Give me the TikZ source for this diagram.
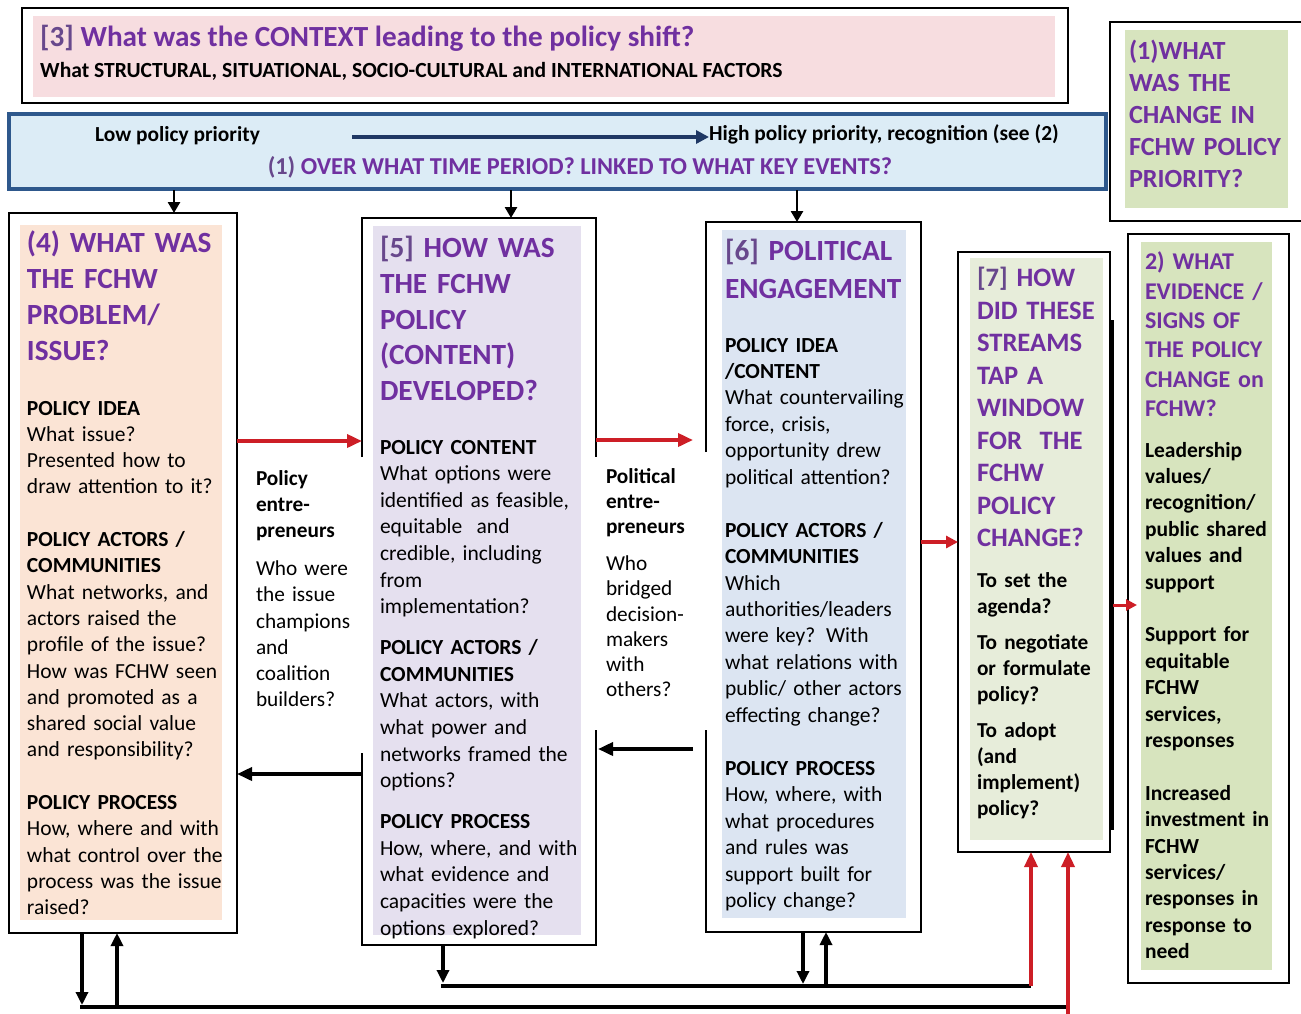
\documentclass[tikz,border=0pt]{standalone}
\usepackage{fontspec}
\setmainfont{Carlito}
\usetikzlibrary{fit,arrows.meta}

\definecolor{ttl}{RGB}{112,48,160}
\definecolor{brk}{RGB}{104,72,140}
\definecolor{pinkfill}{RGB}{247,221,224}
\definecolor{peach}{RGB}{251,228,213}
\definecolor{lav}{RGB}{229,224,239}
\definecolor{bluegray}{RGB}{220,229,242}
\definecolor{sage}{RGB}{215,228,190}
\definecolor{palesage}{RGB}{231,237,218}
\definecolor{barfill}{RGB}{220,236,246}
\definecolor{barline}{RGB}{46,88,140}
\definecolor{navy}{RGB}{31,56,100}
\definecolor{arrred}{RGB}{205,30,38}

\newcommand\bodyfnt{\fontsize{21.5}{26.3}\selectfont}
\newcommand\bigttl{\fontsize{29.3}{36}\selectfont\bfseries}

\tikzset{
  panel/.style={inner sep=0pt, outer sep=0pt, draw=none},
  frame/.style={inner sep=0pt, outer sep=0pt, draw=black, line width=1.6pt},
  frameline/.style={draw=black, line width=1.6pt},
  txt/.style={anchor=base west, inner sep=0pt, outer sep=0pt, align=left, text width=#1},
  txt/.default=300pt,
  ttlstyle/.style={text=ttl},
  blkarr/.style={draw=black, line width=3.2pt, -{Triangle[length=13pt,width=12pt]}},
  smallarr/.style={draw=black, line width=2.6pt, -{Triangle[length=11pt,width=12pt]}},
  redarr/.style={draw=arrred, line width=3.6pt, -{Triangle[length=15pt,width=13pt]}},
  bus/.style={draw=black, line width=4.5pt},
}

\begin{document}
\begin{tikzpicture}[x=1pt,y=-1pt]
\useasboundingbox (0,0) rectangle (1301,1013);
\fill[white] (0,0) rectangle (1301,1013);

% ---- context box [3]
\node[frame, fit={(22,8) (1068,103)}] (f3) {};
\node[panel, fill=pinkfill, fit={(33,16) (1055,97)}] (p3) {};
\node[anchor=base west, inner sep=0pt, text=ttl, font=\fontsize{29.2}{34}\selectfont\bfseries] (h3) at (40,46)
  {{\color{brk}[3]} What was the CONTEXT leading to the policy shift?};
\node[anchor=base west, inner sep=0pt, font=\fontsize{21.6}{25}\selectfont\bfseries] (s3) at (40,77)
  {What STRUCTURAL, SITUATIONAL, SOCIO-CULTURAL and INTERNATIONAL FACTORS};

% ---- time bar (1)
\node[inner sep=0pt, outer sep=0pt, draw=barline, line width=3.5pt, fill=barfill, fit={(9,114) (1106,189)}] (bar) {};
\node[anchor=base west, inner sep=0pt, font=\fontsize{21.4}{26}\selectfont\bfseries] (low) at (95,141) {Low policy priority};
\node[anchor=base west, inner sep=0pt, font=\fontsize{21.4}{26}\selectfont\bfseries] (high) at (709,140) {High policy priority, recognition (see (2)};
\node[anchor=base, inner sep=0pt, text=ttl, font=\fontsize{24.3}{29}\selectfont\bfseries] (q1) at (580,174)
  {{\color{brk}(1)} OVER WHAT TIME PERIOD? LINKED TO WHAT KEY EVENTS?};
\coordinate (trendA) at (352,137);
\draw[draw=navy, line width=4pt, -{Triangle[length=13pt,width=13pt]}] (trendA) -- (high.west |- trendA);

% ---- box (1) top right
\node[frame, fit={(1110,22) (1304,221)}] (f1) {};
\node[panel, fill=sage, fit={(1125,30) (1288,208)}] (p1) {};
\node[txt, ttlstyle, font=\fontsize{26.2}{32}\selectfont\bfseries] (t1) at (1129,59.5)
  {(1)WHAT\\WAS THE\\CHANGE IN\\FCHW POLICY\\PRIORITY?};

% ---- box (4)
\node[frame, fit={(9,213) (237,933)}] (f4) {};
\node[panel, fill=peach, fit={(20,225) (222,920)}] (p4) {};
\node[txt, ttlstyle, font=\bigttl] (t4) at (27,252.5)
  {(4) WHAT WAS\\THE FCHW\\PROBLEM/\\ISSUE?};
\node[txt, font=\bodyfnt] (b4) at (27,415)
  {\textbf{POLICY IDEA}\\What issue?\\Presented how to\\draw attention to it?\\[26.3pt]%
   \textbf{POLICY ACTORS /}\\\textbf{COMMUNITIES}\\What networks, and\\actors raised the\\profile of the issue?\\How was FCHW seen\\and promoted as a\\shared social value\\and responsibility?\\[26.3pt]%
   \textbf{POLICY PROCESS}\\How, where and with\\what control over the\\process was the issue\\raised?};

% ---- box [5] (open frame)
\coordinate (f5nw) at (362,218);
\coordinate (f5ne) at (596,218);
\coordinate (f5sw) at (362,945);
\coordinate (f5se) at (596,945);
\node[panel, fill=lav, fit={(373,226) (581,935)}] (p5) {};
\draw[frameline] (362,457) -- (f5nw) -- (f5ne) -- (596,457);
\draw[frameline] (362,753) -- (f5sw) -- (f5se) -- (596,730);
\node[txt, ttlstyle, font=\fontsize{29.3}{35.75}\selectfont\bfseries] (t5) at (380,257.5)
  {{\color{brk}[5]} HOW WAS\\THE FCHW\\POLICY\\(CONTENT)\\DEVELOPED?};
\node[txt, font=\fontsize{21.5}{26.6}\selectfont] (b5) at (380,454)
  {\textbf{POLICY CONTENT}\\What options were\\identified as feasible,\\equitable\ \ and\\credible, including\\from\\implementation?\\[14.4pt]%
   \textbf{POLICY ACTORS /}\\\textbf{COMMUNITIES}\\What actors, with\\what power and\\networks framed the\\options?\\[14.4pt]%
   \textbf{POLICY PROCESS}\\How, where, and with\\what evidence and\\capacities were the\\options explored?};

% ---- box [6] (open frame)
\coordinate (f6nw) at (706,222);
\coordinate (f6ne) at (921,222);
\coordinate (f6sw) at (706,932);
\coordinate (f6se) at (921,932);
\node[panel, fill=bluegray, fit={(722,230) (906,918)}] (p6) {};
\draw[frameline] (706,452) -- (f6nw) -- (f6ne) -- (f6se) -- (f6sw) -- (706,730);
\node[txt, ttlstyle, font=\fontsize{29.3}{38}\selectfont\bfseries] (t6) at (725,260.5)
  {{\color{brk}[6]} POLITICAL\\ENGAGEMENT};
\node[txt, font=\fontsize{21.5}{26.45}\selectfont] (b6) at (725,352)
  {\textbf{POLICY IDEA}\\\textbf{/CONTENT}\\What countervailing\\force, crisis,\\opportunity drew\\political attention?\\[26.45pt]%
   \textbf{POLICY ACTORS /}\\\textbf{COMMUNITIES}\\Which\\authorities/leaders\\were key? With\\what relations with\\public/ other actors\\effecting change?\\[26.45pt]%
   \textbf{POLICY PROCESS}\\How, where, with\\what procedures\\and rules was\\support built for\\policy change?};

% ---- box [7]
\node[frame, fit={(958,252) (1110,852)}] (f7) {};
\node[panel, fill=palesage, fit={(970,258) (1103,840)}] (p7) {};
\draw[draw=black, line width=5pt] ([xshift=1.5pt]f7.east |- 0,320) -- ([xshift=1.5pt]f7.east |- 0,830);
\node[txt, ttlstyle, font=\fontsize{26.6}{32.5}\selectfont\bfseries] (t7) at (977,286.5)
  {{\color{brk}[7]} HOW\\DID THESE\\STREAMS\\TAP A\\WINDOW\\FOR\ \ THE\\FCHW\\POLICY\\CHANGE?};
\node[txt, font=\fontsize{21.3}{26}\selectfont\bfseries] (b7) at (977,587)
  {To set the\\agenda?\\[10pt]To negotiate\\or formulate\\policy?\\[10pt]To adopt\\(and\\implement)\\policy?};

% ---- box 2)
\node[frame, fit={(1128,234) (1289,983)}] (f2) {};
\node[panel, fill=sage, fit={(1141,242) (1272,970)}] (p2) {};
\node[txt, ttlstyle, font=\fontsize{24}{29.4}\selectfont\bfseries] (t2) at (1145,269.7)
  {2) WHAT\\EVIDENCE /\\SIGNS OF\\THE POLICY\\CHANGE on\\FCHW?};
\node[txt, font=\fontsize{21.5}{26.4}\selectfont\bfseries] (b2) at (1145,457)
  {Leadership\\values/\\recognition/\\public shared\\values and\\support\\[26.4pt]%
   Support for\\equitable\\FCHW\\services,\\responses\\[26.4pt]%
   Increased\\investment in\\FCHW\\services/\\responses in\\response to\\need};

% ---- entrepreneurs between the columns
\node[txt, font=\fontsize{21.3}{26.2}\selectfont] (pe) at (256,485)
  {\textbf{Policy}\\\textbf{entre-}\\\textbf{preneurs}\\[12pt]Who were\\the issue\\champions\\and\\coalition\\builders?};
\node[txt, font=\fontsize{21.3}{25.2}\selectfont] (ple) at (606,483)
  {\textbf{Political}\\\textbf{entre-}\\\textbf{preneurs}\\[12pt]Who\\bridged\\decision-\\makers\\with\\others?};

% ---- connectors from the time bar
\coordinate (d4) at (174,190);
\coordinate (d5) at (511,190);
\coordinate (d6) at (797,190);
\draw[smallarr] (d4) -- (d4 |- f4.north);
\draw[smallarr] (d5) -- (d5 |- f5nw);
\draw[smallarr] (d6) -- (d6 |- f6nw);

% ---- flows between the streams
\coordinate (r1) at (237,441);
\coordinate (r1e) at (362,441);
\draw[redarr] (r1) -- (r1e);
\coordinate (r2) at (596,440);
\coordinate (r2e) at (693,440);
\draw[redarr] (r2) -- (r2e);
\coordinate (r3) at (921,542);
\draw[draw=arrred, line width=3.4pt, -{Triangle[length=12pt,width=12pt]}] (r3) -- (f7.west |- r3);
\coordinate (r4) at (1113,605);
\coordinate (r4e) at (1137,605);
\draw[draw=arrred, line width=3pt, -{Triangle[length=11pt,width=11pt]}] (r4) -- (r4e);

\coordinate (k1) at (362,774);
\draw[blkarr, line width=3.6pt, -{Triangle[length=15pt,width=13pt]}] (k1) -- (f4.east |- k1);
\coordinate (k2) at (693,749);
\coordinate (k2e) at (598,749);
\draw[blkarr, line width=3.6pt, -{Triangle[length=15pt,width=13pt]}] (k2) -- (k2e);

% ---- feedback loops along the bottom
\coordinate (busA0) at (80,1007);
\coordinate (busA1) at (1068,1007);
\coordinate (busB0) at (441,986);
\coordinate (busB1) at (1031,986);
\draw[bus] (busA0) -- (busA1);
\draw[bus] (busB0) -- (busB1);

\draw[blkarr] (f4.south -| 82,0) -- (82,1005);
\draw[blkarr] (117,1006) -- (f4.south -| 117,0);
\draw[blkarr] (f5sw -| 443,0) -- (443,983);
\draw[blkarr] (f6sw -| 803,0) -- (803,984);
\draw[blkarr] (826,985) -- (f6sw -| 826,0);

\draw[redarr, line width=3.4pt] (1068,1015) -- (f7.south -| 1068,0);
\draw[redarr, line width=3.4pt] (busB1) -- (f7.south -| busB1);
\end{tikzpicture}
\end{document}
